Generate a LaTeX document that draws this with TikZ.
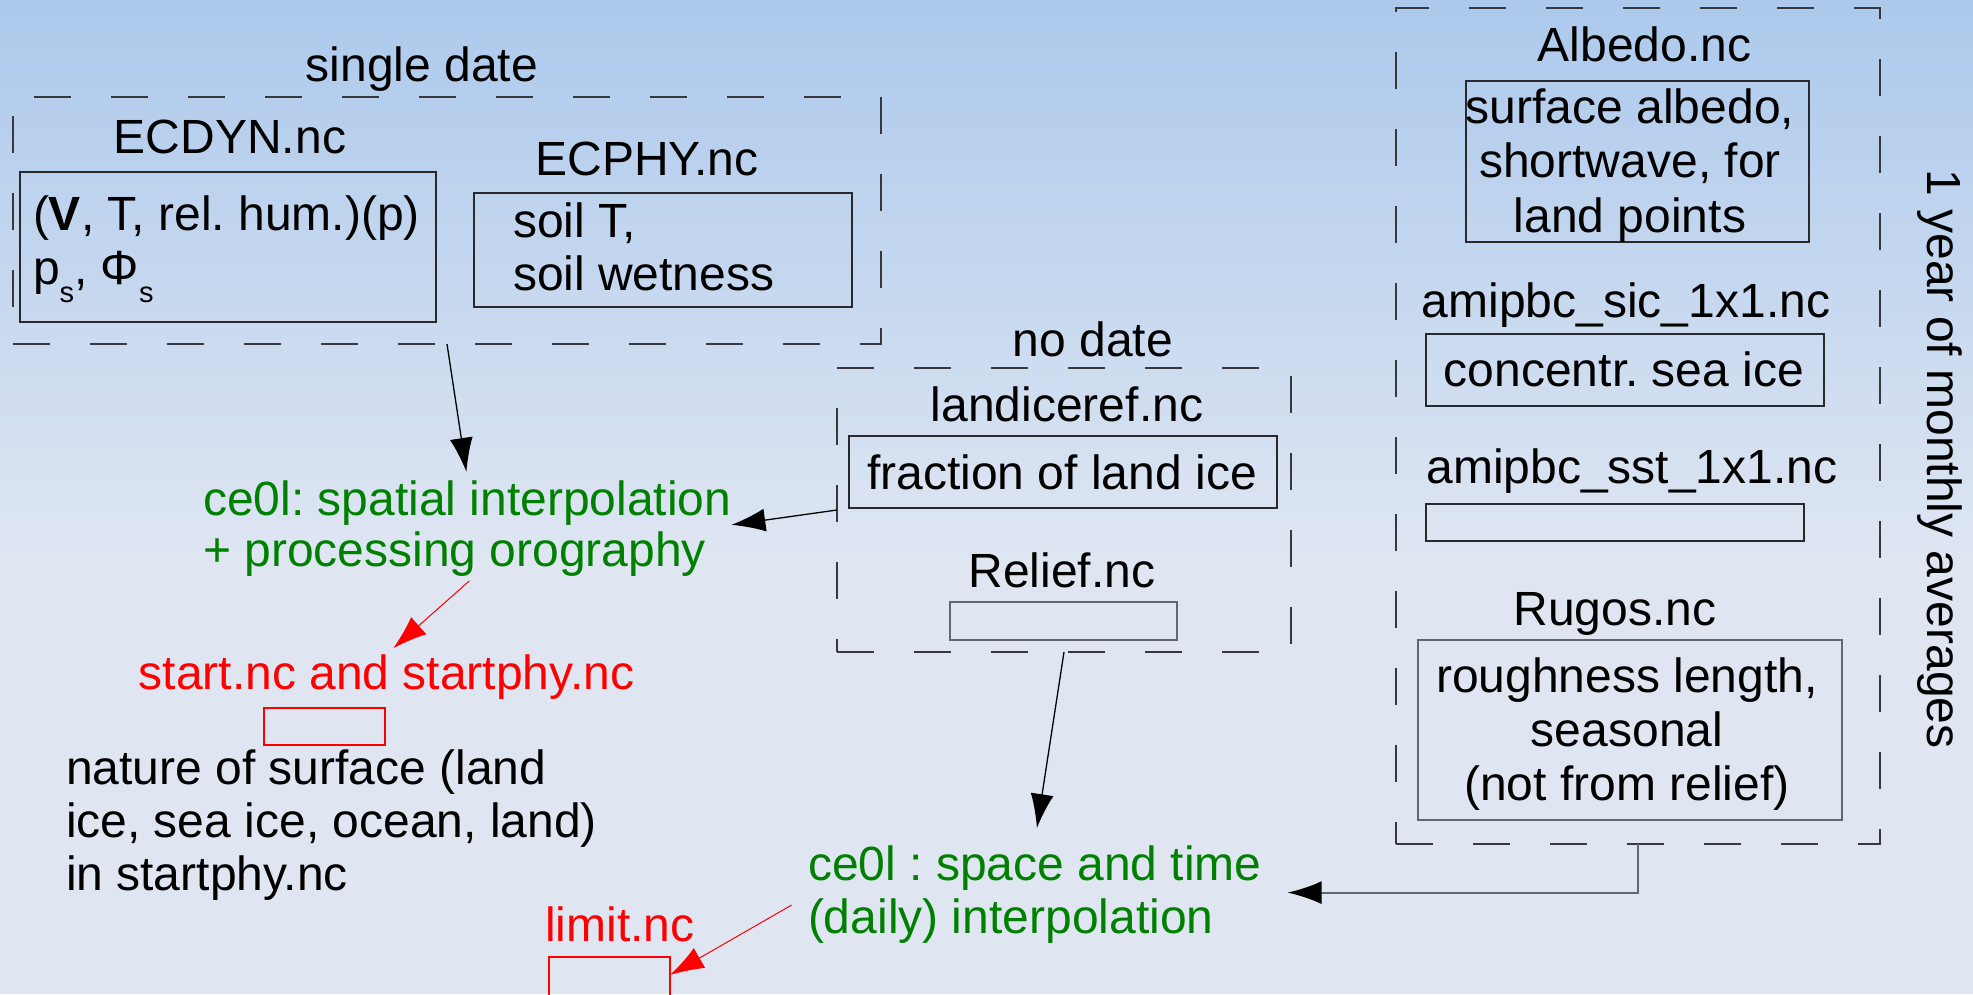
\documentclass[tikz,border=0pt]{standalone}
\usepackage{fontspec}
\setmainfont{Liberation Sans}
\usetikzlibrary{arrows.meta}
\frenchspacing
\definecolor{bgtop}{RGB}{172,201,236}
\definecolor{bgbot}{RGB}{223,230,242}
\definecolor{grn}{RGB}{0,128,0}
\definecolor{rd}{RGB}{255,0,0}
\definecolor{boxcol}{RGB}{40,40,45}
\definecolor{graycol}{RGB}{100,102,112}
\definecolor{dashcol}{RGB}{55,55,60}
\newcommand\ml[2][c]{\begin{tabular}[t]{@{}#1@{}}#2\end{tabular}}
\newcommand\subs[1]{\raisebox{-18pt}{\fontsize{29}{30}\selectfont #1}}
\tikzset{
  txt/.style={font=\fontsize{48}{54.5}\selectfont\frenchspacing, inner sep=0pt, outer sep=0pt},
  box/.style={draw=boxcol, line width=1.5pt, inner sep=0pt, outer sep=0pt},
  gbox/.style={draw=graycol, line width=2pt, inner sep=0pt, outer sep=0pt},
  rbox/.style={draw=rd, line width=1.2pt, inner sep=0pt, outer sep=0pt},
  grp/.style={draw=dashcol, line width=1.6pt, dash pattern=on 37pt off 40pt, inner sep=0pt, outer sep=0pt},
  arr/.style={-{Latex[length=34pt,width=23pt]}, line width=1.3pt, black},
  rarr/.style={-{Latex[length=34pt,width=23pt]}, line width=1pt, rd},
  garr/.style={-{Latex[length=34pt,width=23pt,color=black]}, draw=graycol, line width=2pt},
}
\begin{document}
\begin{tikzpicture}[x=1pt,y=-1pt]
\useasboundingbox (0,0) rectangle (1973,994);
\shade[top color=bgtop, bottom color=bgbot] (0,0) rectangle (1973,560);
\fill[bgbot] (0,559) rectangle (1973,994);

% single date group
\node[grp, minimum width=868pt, minimum height=247pt] (sdgrp) at (447,220.5) {};
\node[txt, anchor=base] (singledate) at (422,81.7) {single date};
\node[txt, anchor=base] (ecdynlbl) at (230,153) {ECDYN.nc};
\node[box, minimum width=416pt, minimum height=150pt] (ecdynbox) at (228,247) {};
\node[txt, anchor=base west] (ecdyntxt) at (33,230) {\ml[l]{(\textbf{V}, T, rel. hum.)(p)\\p\subs{s}, Φ\subs{s}}};
\node[txt, anchor=base] (ecphylbl) at (647,175) {ECPHY.nc};
\node[box, minimum width=378pt, minimum height=114pt] (ecphybox) at (663,250) {};
\node[txt, anchor=base west] (ecphytxt) at (513,237) {\ml[l]{soil T,\\[-1.5pt]soil wetness}};

% no date group
\node[grp, minimum width=454pt, minimum height=284pt] (ndgrp) at (1064,510) {};
\node[txt, anchor=base] (nodate) at (1093,356) {no date};
\node[txt, anchor=base] (landlbl) at (1067,421) {landiceref.nc};
\node[box, minimum width=428pt, minimum height=72pt] (fracbox) at (1063,472) {};
\node[txt, anchor=base] (fractxt) at (1062,489) {fraction of land ice};
\node[txt, anchor=base] (relieflbl) at (1062,587) {Relief.nc};
\node[gbox, minimum width=227pt, minimum height=38pt] (reliefbox) at (1063.5,621) {};

% 1 year group
\node[grp, minimum width=484pt, minimum height=836pt] (yrgrp) at (1638,426) {};
\node[txt, anchor=base] (albedolbl) at (1644.5,61) {Albedo.nc};
\node[box, minimum width=343pt, minimum height=161pt] (albbox) at (1637.5,161.5) {};
\node[txt, anchor=base] (albtxt) at (1630,123) {\ml{surface albedo,\\shortwave, for\\land points}};
\node[txt, anchor=base] (siclbl) at (1626,317) {amipbc\_sic\_1x1.nc};
\node[box, minimum width=398pt, minimum height=72pt] (sicbox) at (1625,370) {};
\node[txt, anchor=base] (sictxt) at (1624,386) {concentr. sea ice};
\node[txt, anchor=base] (sstlbl) at (1632,483) {amipbc\_sst\_1x1.nc};
\node[box, minimum width=378pt, minimum height=37pt] (sstbox) at (1615,522.5) {};
\node[txt, anchor=base] (ruglbl) at (1615,625) {Rugos.nc};
\node[gbox, minimum width=423.5pt, minimum height=180pt] (rugbox) at (1630,730) {};
\node[txt, anchor=base] (rugtxt) at (1627,692) {\ml{roughness length,\\[-0.5pt]seasonal\\[-0.5pt](not from relief)}};
\node[txt, anchor=base, rotate=-90] (yeartxt) at (1927,459) {1 year of monthly averages};

% processing steps
\node[txt, anchor=base west, text=grn] (ce1) at (203,515) {\ml[l]{ce0l: spatial interpolation\\[-3pt]+ processing orography}};
\node[txt, anchor=base, text=rd] (startnc) at (386.5,689) {start.nc and startphy.nc};
\node[rbox, minimum width=121pt, minimum height=37pt] (startbox) at (324.5,726.5) {};
\node[txt, anchor=base west] (naturetxt) at (66,784.5) {\ml[l]{nature of surface (land\\[-1.5pt]ice, sea ice, ocean, land)\\[-1.5pt]in startphy.nc}};
\node[txt, anchor=base west, text=grn] (ce2) at (808,880) {\ml[l]{ce0l : space and time\\[-1.5pt](daily) interpolation}};
\node[txt, anchor=base, text=rd] (limitnc) at (620,941) {limit.nc};
\node[rbox, minimum width=121pt, minimum height=70pt] (limitbox) at (609.5,992) {};

% connectors
\draw[arr, shorten >=5pt] (sdgrp.south) -- (ce1.north);
\draw[arr] (ndgrp.west) -- ([yshift=5pt]ce1.east);
\draw[rarr, shorten <=-3pt, shorten >=9pt] (ce1.south) -- (startnc.north);
\draw[arr, shorten >=14pt] (ndgrp.south) -- (ce2.north);
\draw[garr, shorten >=26pt] (yrgrp.south) |- ([yshift=3pt]ce2.east);
\draw[rarr, shorten <=19pt] (ce2.west) -- ([yshift=-18pt]limitbox.north east);
\end{tikzpicture}
\end{document}
